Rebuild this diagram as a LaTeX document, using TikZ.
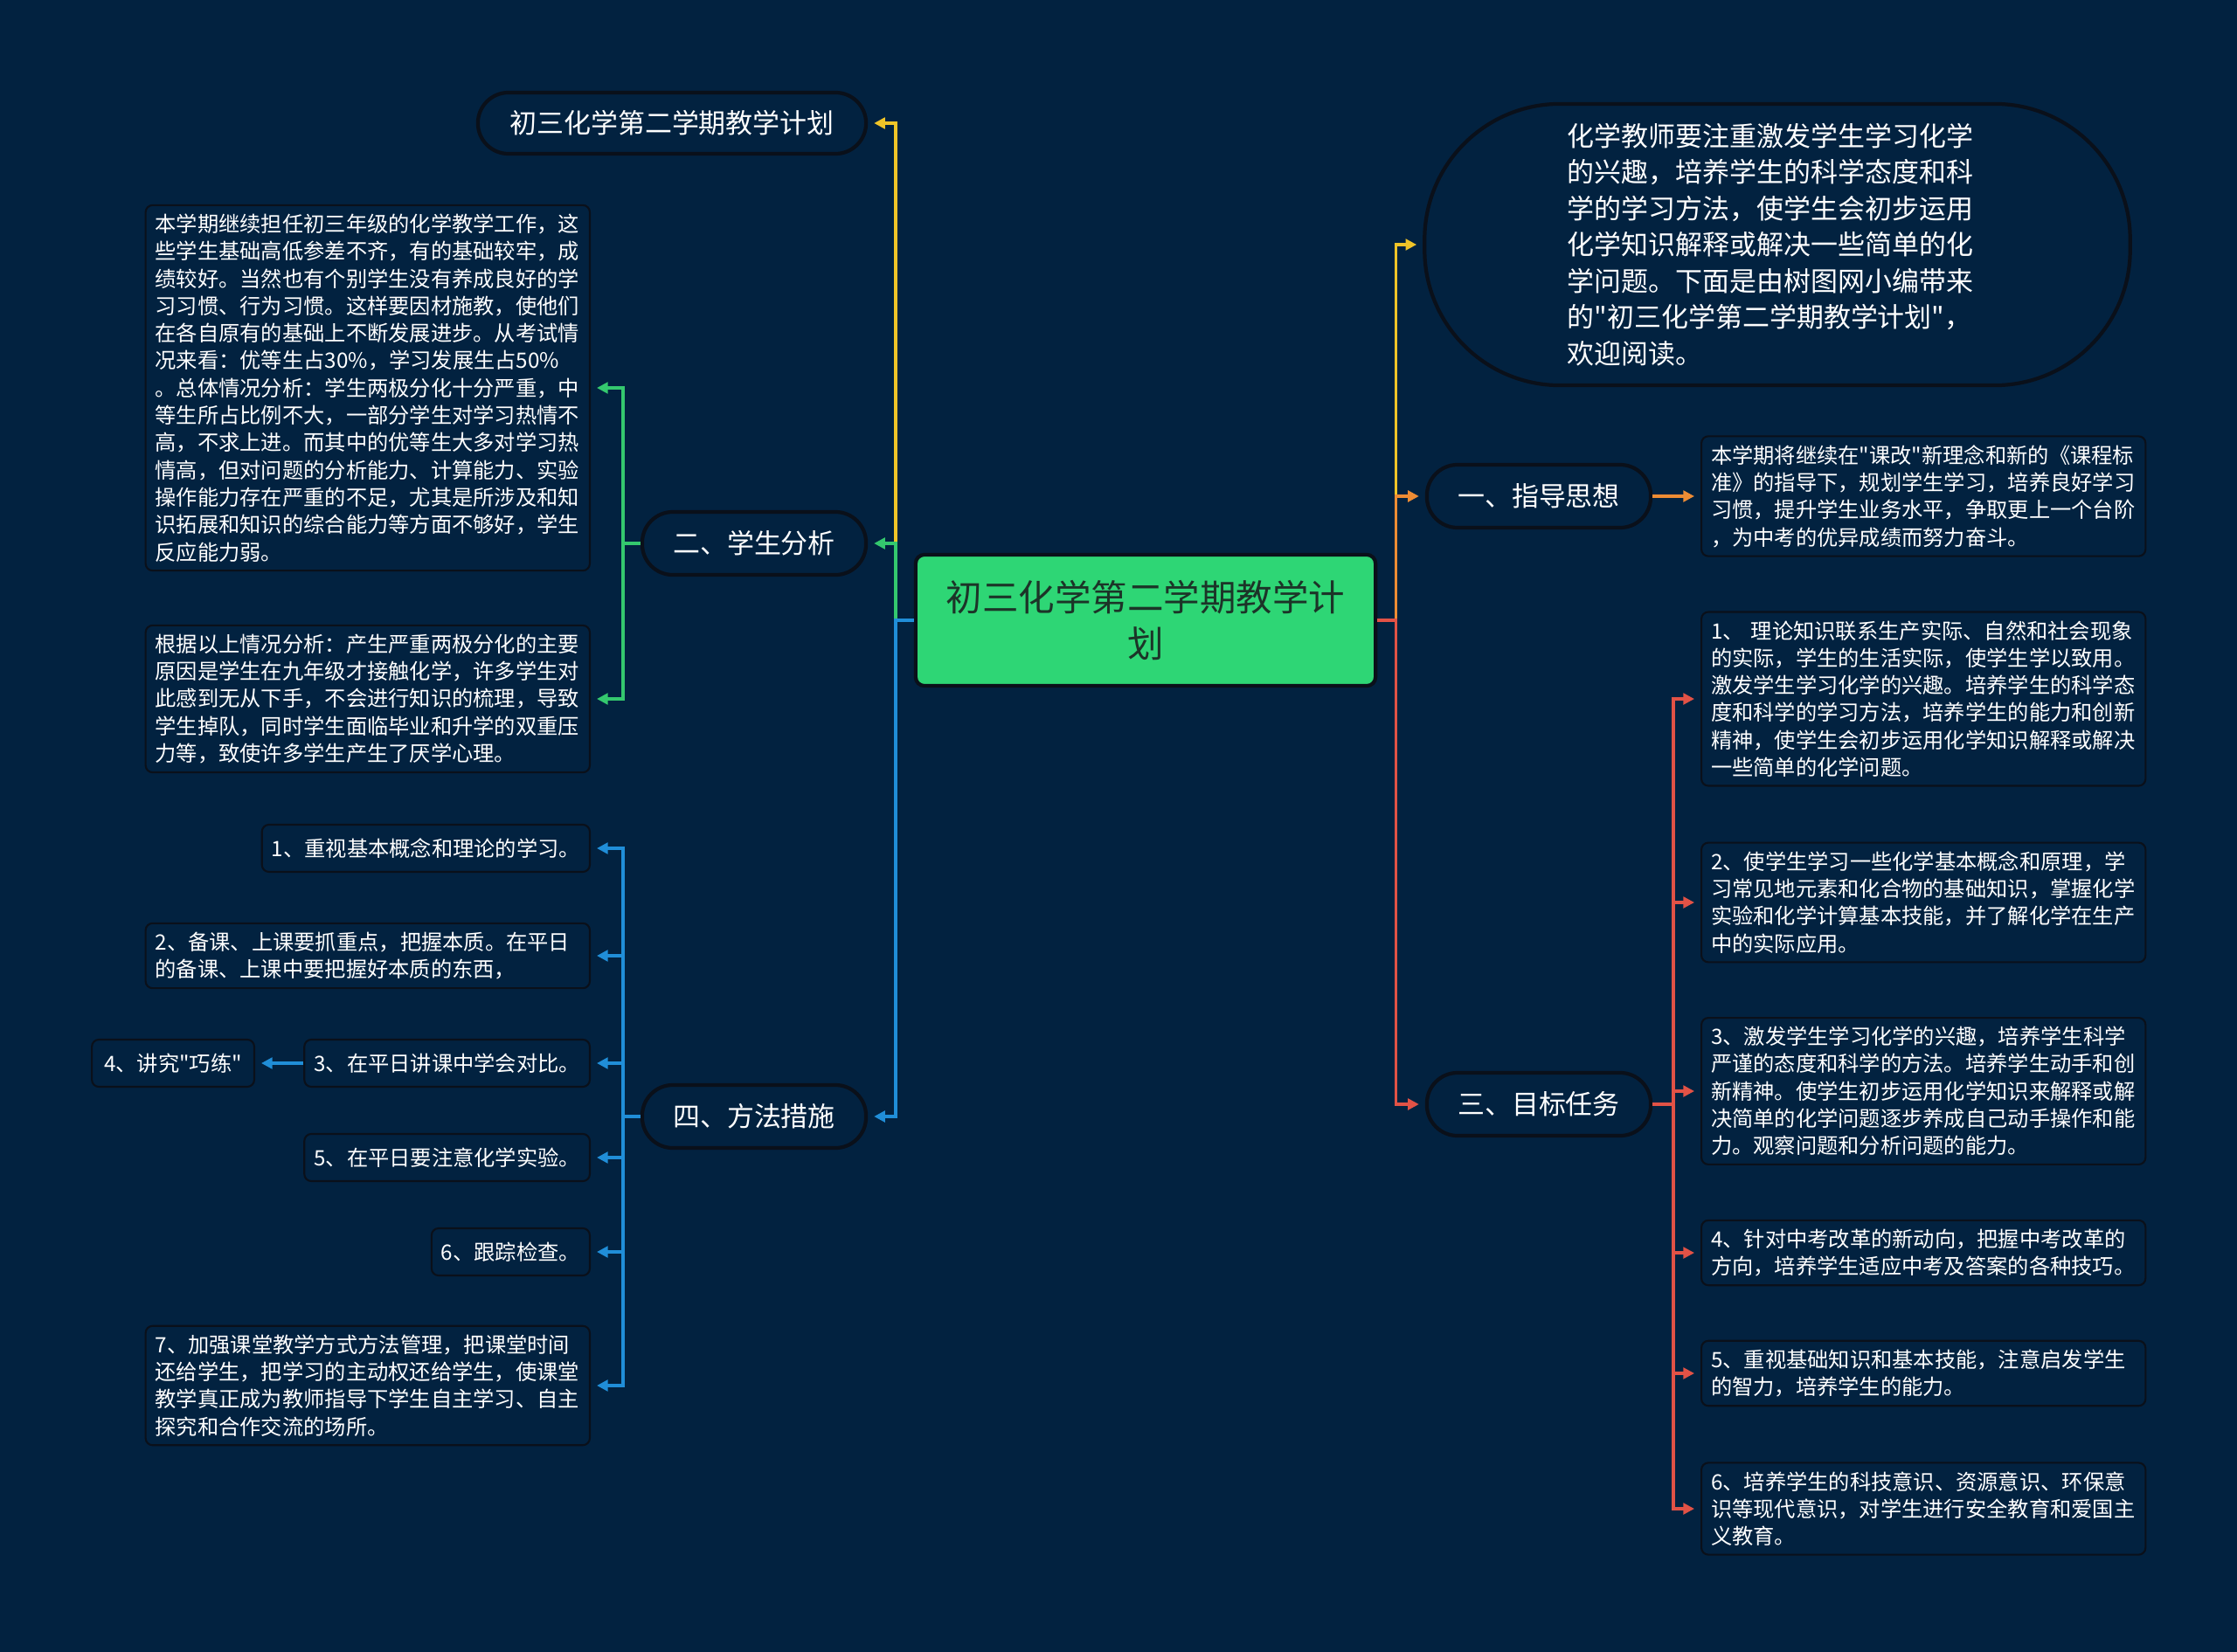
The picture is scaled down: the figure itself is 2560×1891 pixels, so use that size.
\documentclass[tikz,border=0pt]{standalone}
\usepackage{fontspec}
\setmainfont{Noto Sans CJK SC}[Ligatures=TeXOff]
\usetikzlibrary{arrows.meta}

\definecolor{bgblue}{RGB}{2,34,64}
\definecolor{edgedark}{RGB}{10,16,26}
\definecolor{rootgreen}{RGB}{46,214,117}
\definecolor{roottext}{RGB}{28,52,40}
\definecolor{lyellow}{RGB}{240,196,40}
\definecolor{lgreen}{RGB}{52,200,110}
\definecolor{lblue}{RGB}{32,142,216}
\definecolor{lorange}{RGB}{238,140,52}
\definecolor{lred}{RGB}{226,82,70}

\tikzset{
  leafbox/.style = {draw=edgedark, fill=bgblue, line width=0.6pt,
                    rounded corners=0.08cm, text=white, align=left,
                    font=\fontsize{6.9}{8.9}\selectfont,
                    inner xsep=0.11cm, inner ysep=0.1cm, minimum height=0.54cm},
  pillbox/.style = {draw=edgedark, fill=bgblue, line width=1.2pt,
                    rounded corners=0.35cm, text=white,
                    font=\fontsize{8.8}{11.8}\selectfont,
                    minimum width=2.56cm, minimum height=0.72cm},
  link/.style    = {line width=1pt, -{Triangle[length=3.6pt,width=3.6pt]},
                    shorten >=0.07cm}
}

\begin{document}
\begin{tikzpicture}[x=0.01cm, y=-0.01cm]
  \fill[bgblue] (0,0) rectangle (2560,1891);

  % centre and first level
  \node[draw=edgedark, line width=1.2pt, fill=rootgreen, rounded corners=0.1cm,
        text=roottext, font=\fontsize{11.8}{15.3}\selectfont, align=center,
        minimum width=5.26cm, minimum height=1.5cm]
    (root) at (1311,710) {初三化学第二学期教学计\\划};

  \node[pillbox, minimum width=4.44cm, minimum height=0.70cm]
    (title) at (769,141) {初三化学第二学期教学计划};
  \node[pillbox, minimum width=8.07cm, minimum height=3.22cm,
        rounded corners=1.55cm, text width=4.8cm, align=left]
    (intro) at (2034,280) {化学教师要注重激发学生学习化学\\的兴趣，培养学生的科学态度和科\\学的学习方法，使学生会初步运用\\化学知识解释或解决一些简单的化\\学问题。下面是由树图网小编带来\\的"初三化学第二学期教学计划"，\\欢迎阅读。};

  \node[pillbox] (g1) at (1761,568)  {一、指导思想};
  \node[pillbox] (g2) at (863,622)   {二、学生分析};
  \node[pillbox] (g3) at (1761,1264) {三、目标任务};
  \node[pillbox] (g4) at (863,1278)  {四、方法措施};

  % leaves, left
  \node[leafbox, text width=4.86cm, anchor=east] (a1) at (676,444)
    {本学期继续担任初三年级的化学教学工作，这\\些学生基础高低参差不齐，有的基础较牢，成\\绩较好。当然也有个别学生没有养成良好的学\\习习惯、行为习惯。这样要因材施教，使他们\\在各自原有的基础上不断发展进步。从考试情\\况来看：优等生占30\%，学习发展生占50\%\\。总体情况分析：学生两极分化十分严重，中\\等生所占比例不大，一部分学生对学习热情不\\高，不求上进。而其中的优等生大多对学习热\\情高，但对问题的分析能力、计算能力、实验\\操作能力存在严重的不足，尤其是所涉及和知\\识拓展和知识的综合能力等方面不够好，学生\\反应能力弱。};
  \node[leafbox, text width=4.86cm, anchor=east] (a2) at (676,800)
    {根据以上情况分析：产生严重两极分化的主要\\原因是学生在九年级才接触化学，许多学生对\\此感到无从下手，不会进行知识的梳理，导致\\学生掉队，同时学生面临毕业和升学的双重压\\力等，致使许多学生产生了厌学心理。};

  \node[leafbox, anchor=east] (m1) at (676,971) {1、重视基本概念和理论的学习。};
  \node[leafbox, text width=4.86cm, anchor=east] (m2) at (676,1094)
    {2、备课、上课要抓重点，把握本质。在平日\\的备课、上课中要把握好本质的东西，};
  \node[leafbox, anchor=east] (m3) at (676,1217) {3、在平日讲课中学会对比。};
  \node[leafbox, anchor=east, inner xsep=0.14cm] (m4) at (292,1217) {4、讲究"巧练"};
  \node[leafbox, anchor=east] (m5) at (676,1325) {5、在平日要注意化学实验。};
  \node[leafbox, anchor=east] (m6) at (676,1433) {6、跟踪检查。};
  \node[leafbox, text width=4.86cm, anchor=east] (m7) at (676,1586)
    {7、加强课堂教学方式方法管理，把课堂时间\\还给学生，把学习的主动权还给学生，使课堂\\教学真正成为教师指导下学生自主学习、自主\\探究和合作交流的场所。};

  % leaves, right
  \node[leafbox, text width=4.86cm, anchor=west] (h1) at (1946,568)
    {本学期将继续在"课改"新理念和新的《课程标\\准》的指导下，规划学生学习，培养良好学习\\习惯，提升学生业务水平，争取更上一个台阶\\，为中考的优异成绩而努力奋斗。};
  \node[leafbox, text width=4.86cm, anchor=west] (t1) at (1946,800)
    {1、 理论知识联系生产实际、自然和社会现象\\的实际，学生的生活实际，使学生学以致用。\\激发学生学习化学的兴趣。培养学生的科学态\\度和科学的学习方法，培养学生的能力和创新\\精神，使学生会初步运用化学知识解释或解决\\一些简单的化学问题。};
  \node[leafbox, text width=4.86cm, anchor=west] (t2) at (1946,1033)
    {2、使学生学习一些化学基本概念和原理，学\\习常见地元素和化合物的基础知识，掌握化学\\实验和化学计算基本技能，并了解化学在生产\\中的实际应用。};
  \node[leafbox, text width=4.86cm, anchor=west] (t3) at (1946,1249)
    {3、激发学生学习化学的兴趣，培养学生科学\\严谨的态度和科学的方法。培养学生动手和创\\新精神。使学生初步运用化学知识来解释或解\\决简单的化学问题逐步养成自己动手操作和能\\力。观察问题和分析问题的能力。};
  \node[leafbox, text width=4.86cm, anchor=west] (t4) at (1946,1434)
    {4、针对中考改革的新动向，把握中考改革的\\方向，培养学生适应中考及答案的各种技巧。};
  \node[leafbox, text width=4.86cm, anchor=west] (t5) at (1946,1572)
    {5、重视基础知识和基本技能，注意启发学生\\的智力，培养学生的能力。};
  \node[leafbox, text width=4.86cm, anchor=west] (t6) at (1946,1727)
    {6、培养学生的科技意识、资源意识、环保意\\识等现代意识，对学生进行安全教育和爱国主\\义教育。};

  % connectors
  \draw[link, lyellow] (root.west) -- ++(-21,0) |- (title.east);
  \draw[link, lgreen]  (root.west) -- ++(-21,0) |- (g2.east);
  \draw[link, lblue]   (root.west) -- ++(-21,0) |- (g4.east);
  \draw[link, lyellow] (root.east) -- ++(21,0) |- (intro.west);
  \draw[link, lorange] (root.east) -- ++(21,0) |- (g1.west);
  \draw[link, lred]    (root.east) -- ++(21,0) |- (g3.west);

  \foreach \n in {a1,a2}
    \draw[link, lgreen] (g2.west) -- ++(-20,0) |- (\n.east);
  \foreach \n in {m1,m2,m3,m5,m6,m7}
    \draw[link, lblue] (g4.west) -- ++(-20,0) |- (\n.east);
  \draw[link, lblue] (m3.west) -- (m4.east);
  \draw[link, lorange] (g1.east) -- (h1.west);
  \foreach \n in {t1,t2,t3,t4,t5,t6}
    \draw[link, lred] (g3.east) -- ++(24,0) |- (\n.west);
\end{tikzpicture}
\end{document}
